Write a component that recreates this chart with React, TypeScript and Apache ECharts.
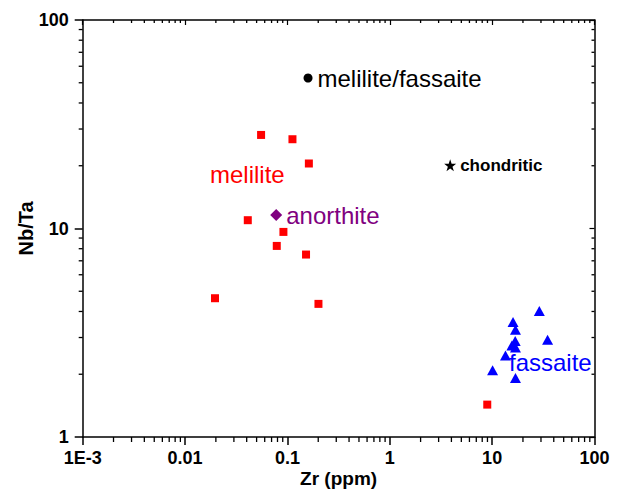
import React, { useEffect, useRef } from "react";
import * as echarts from "echarts";

// Melilite (red squares)
const meliliteZr = [0.0553, 0.112, 0.162, 0.041, 0.0914, 0.0787, 0.152, 0.201, 0.0196, 8.96];
const meliliteNbTa = [28.1, 26.8, 20.5, 10.96, 9.63, 8.25, 7.5, 4.35, 4.63, 1.43];
// Fassaite (blue triangles)
const fassaiteZr = [28.9, 16.0, 16.9, 34.8, 16.8, 15.6, 16.9, 13.5, 10.1, 16.9];
const fassaiteNbTa = [4.02, 3.56, 3.27, 2.93, 2.89, 2.75, 2.69, 2.46, 2.09, 1.92];
// Anorthite (purple diamond)
const anorthiteZr = [0.0777];
const anorthiteNbTa = [11.6];
// Melilite/fassaite (black circle)
const melFasZr = [0.159];
const melFasNbTa = [52.7];
// Chondritic (black star)
const chondriticZr = [3.89];
const chondriticNbTa = [20.1];

const xTickLabels = ["1E-3", "0.01", "0.1", "1", "10", "100"];
const yTickLabels = ["1", "10", "100"];
// minor tick positions (axis decoration)
const xMinor = [
  0.002, 0.003, 0.004, 0.005, 0.006, 0.007, 0.008, 0.009,
  0.02, 0.03, 0.04, 0.05, 0.06, 0.07, 0.08, 0.09,
  0.2, 0.3, 0.4, 0.5, 0.6, 0.7, 0.8, 0.9,
  2, 3, 4, 5, 6, 7, 8, 9,
  20, 30, 40, 50, 60, 70, 80, 90,
];
const yMinor = [2, 3, 4, 5, 6, 7, 8, 9, 20, 30, 40, 50, 60, 70, 80, 90];

const FONT = "'Liberation Sans', Arial, sans-serif";
const STAR = "path://M12,0 L14.9,8.6 L24,8.6 L16.6,14 L19.4,22.8 L12,17.4 L4.6,22.8 L7.4,14 L0,8.6 L9.1,8.6 Z";

const pairs = (xs: number[], ys: number[]) => xs.map((x, i) => [x, ys[i]]);

const X_MIN = 0.001;
const X_MAX = 100;
const Y_MIN = 1;
const Y_MAX = 100;

export default function App() {
  const ref = useRef<HTMLDivElement>(null);
  useEffect(() => {
    if (!ref.current) return;
    const chart = echarts.init(ref.current, undefined, { renderer: "svg" });
    const axisLine = { show: true, lineStyle: { color: "#000", width: 1.5 } };
    const xBase = {
      type: "log" as const,
      logBase: 10,
      min: X_MIN,
      max: X_MAX,
      interval: 1,
      splitLine: { show: false },
      axisLine,
    };
    const yBase = {
      type: "log" as const,
      logBase: 10,
      min: Y_MIN,
      max: Y_MAX,
      interval: 1,
      splitLine: { show: false },
      axisLine,
    };
    const tickLabel = {
      color: "#000",
      fontSize: 18,
      fontWeight: "bold" as const,
      fontFamily: FONT,
    };

    const tickLine = (
      key: string,
      data: number[][],
      size: [number, number],
      offset: [number, number]
    ) => ({
      type: "scatter",
      id: key,
      name: key,
      silent: true,
      clip: false,
      symbol: "rect",
      symbolSize: size,
      symbolOffset: offset,
      itemStyle: { color: "#000", opacity: 1 },
      z: 10,
      data,
    });

    chart.setOption({
      animation: false,
      backgroundColor: "#fff",
      grid: { left: 82.7, right: 22.5, top: 20, bottom: 56 },
      xAxis: [
        {
          ...xBase,
          position: "bottom",
          name: "Zr (ppm)",
          nameLocation: "middle",
          nameGap: 32,
          nameMoveOverlap: false,
          nameTextStyle: { color: "#000", fontSize: 19, fontWeight: "bold", fontFamily: FONT },
          axisTick: { show: true, inside: false, length: 8, lineStyle: { color: "#000", width: 1.5 } },
          axisLabel: {
            ...tickLabel,
            margin: 12,
            formatter: (v: number) => xTickLabels[Math.round(Math.log10(v)) + 3] ?? "",
          },
        },
        {
          ...xBase,
          position: "top",
          axisTick: { show: true, inside: true, length: 5, lineStyle: { color: "#000", width: 1.2 } },
          axisLabel: { show: false },
        },
      ],
      yAxis: [
        {
          ...yBase,
          position: "left",
          name: "Nb/Ta",
          nameLocation: "middle",
          nameGap: 47,
          nameMoveOverlap: false,
          nameTextStyle: { color: "#000", fontSize: 20, fontWeight: "bold", fontFamily: FONT },
          axisTick: { show: true, inside: false, length: 8, lineStyle: { color: "#000", width: 1.5 } },
          axisLabel: {
            ...tickLabel,
            margin: 14,
            formatter: (v: number) => yTickLabels[Math.round(Math.log10(v))] ?? "",
          },
        },
        {
          ...yBase,
          position: "right",
          axisTick: { show: true, inside: true, length: 5, lineStyle: { color: "#000", width: 1.2 } },
          axisLabel: { show: false },
        },
      ],
      series: [
        // minor ticks: bottom (outward), top (inward), left (outward), right (inward)
        tickLine("mb", xMinor.map((v) => [v, Y_MIN]), [1.3, 5], [0, 2.5]),
        tickLine("mt", xMinor.map((v) => [v, Y_MAX]), [1.3, 3], [0, 1.5]),
        tickLine("ml", yMinor.map((v) => [X_MIN, v]), [4, 1.3], [-2, 0]),
        tickLine("mr", yMinor.map((v) => [X_MAX, v]), [3, 1.3], [-1.5, 0]),
        {
          type: "scatter",
          name: "melilite",
          symbol: "rect",
          symbolSize: 8,
          itemStyle: { color: "#ff0000", opacity: 1 },
          data: pairs(meliliteZr, meliliteNbTa),
        },
        {
          type: "scatter",
          name: "fassaite",
          symbol: "triangle",
          symbolSize: [11, 10],
          itemStyle: { color: "#0000ff", opacity: 1 },
          data: pairs(fassaiteZr, fassaiteNbTa),
        },
        {
          type: "scatter",
          name: "anorthite",
          symbol: "diamond",
          symbolSize: 12,
          itemStyle: { color: "#800080", opacity: 1 },
          label: {
            show: true,
            position: "right",
            distance: 4,
            formatter: "anorthite",
            color: "#800080",
            fontSize: 24,
            fontFamily: FONT,
          },
          data: pairs(anorthiteZr, anorthiteNbTa),
        },
        {
          type: "scatter",
          name: "melilite/fassaite",
          symbol: "circle",
          symbolSize: 9,
          itemStyle: { color: "#000", opacity: 1 },
          label: {
            show: true,
            position: "right",
            distance: 5,
            formatter: "melilite/fassaite",
            color: "#000",
            fontSize: 24,
            fontFamily: FONT,
          },
          data: pairs(melFasZr, melFasNbTa),
        },
        {
          type: "scatter",
          name: "chondritic",
          symbol: STAR,
          symbolSize: 12,
          itemStyle: { color: "#000", opacity: 1 },
          label: {
            show: true,
            position: "right",
            distance: 4,
            formatter: "chondritic",
            color: "#000",
            fontSize: 17,
            fontWeight: "bold",
            fontFamily: FONT,
          },
          data: pairs(chondriticZr, chondriticNbTa),
        },
      ],
      graphic: [
        {
          type: "text",
          left: 210,
          top: 162,
          style: { text: "melilite", fill: "#ff0000", fontSize: 24, fontFamily: FONT },
        },
        {
          type: "text",
          left: 509,
          top: 350,
          style: { text: "fassaite", fill: "#0000ff", fontSize: 24, fontFamily: FONT },
        },
      ],
    });
    return () => chart.dispose();
  }, []);
  return (
    <div
      ref={ref}
      style={{ position: "fixed", left: 0, top: 0, width: 617, height: 493 }}
    />
  );
}
